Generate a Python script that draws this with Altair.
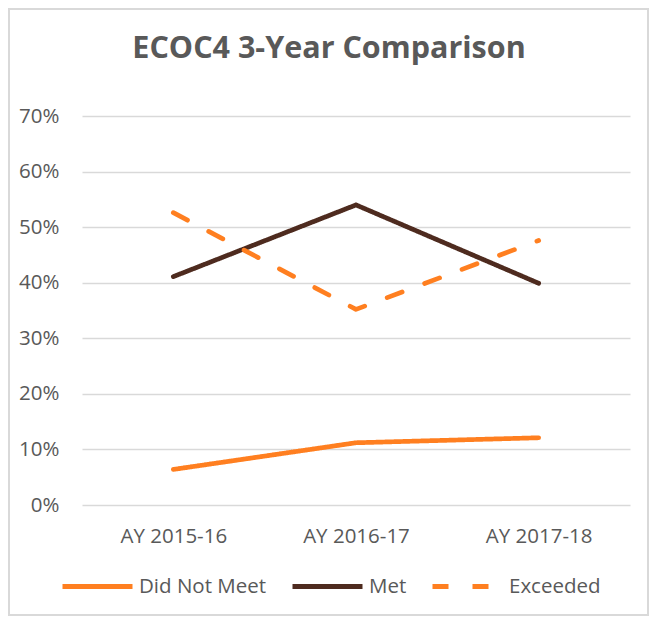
import altair as alt
import pandas as pd

years = ["AY 2015-16", "AY 2016-17", "AY 2017-18"]
series_names = ["Did Not Meet", "Met", "Exceeded"]
did_not_meet = [0.064, 0.112, 0.121]
met = [0.411, 0.540, 0.399]
exceeded = [0.526, 0.352, 0.476]
series_colors = ["#FF7F20", "#4E2B1F", "#FF7F20"]
series_dash = [[1, 0], [1, 0], [16, 24]]
y_ticks = [0, 0.1, 0.2, 0.3, 0.4, 0.5, 0.6, 0.7]
chart_title = "ECOC4 3-Year Comparison"

rows = []
for name, vals in zip(series_names, [did_not_meet, met, exceeded]):
    for yr, v in zip(years, vals):
        rows.append({"Year": yr, "Series": name, "Value": v})
df = pd.DataFrame(rows)

W, H = 548, 389
PL, PT, PR, PB = 74, 108, 19, 111
FS = 20.5

legend = alt.Legend(orient="none", legendX=-22, legendY=433, direction="horizontal",
                    symbolType="stroke", symbolSize=4900, symbolStrokeWidth=5,
                    labelFont="Open Sans", labelFontSize=FS, labelColor="#595959",
                    labelOffset=4, columnPadding=15, symbolOpacity=1, title=None)

lines = alt.Chart(df).mark_line(strokeWidth=4.7, strokeCap="round", strokeJoin="round").encode(
    x=alt.X("Year:N", sort=years, title=None,
            scale=alt.Scale(type="point", padding=0.5),
            axis=alt.Axis(labelAngle=0, labelFont="Open Sans", labelFontSize=FS,
                          labelColor="#595959", labelPadding=21, ticks=False,
                          domain=False, grid=False)),
    y=alt.Y("Value:Q", title=None,
            scale=alt.Scale(domain=[0, 0.7], nice=False),
            axis=alt.Axis(format=".0%", values=y_ticks, labelFont="Open Sans",
                          labelFontSize=FS, labelColor="#595959", labelPadding=23,
                          ticks=False, domain=False, gridColor="#d9d9d9",
                          gridWidth=1.5)),
    color=alt.Color("Series:N", sort=series_names, title=None, legend=legend,
                    scale=alt.Scale(domain=series_names, range=series_colors)),
    strokeDash=alt.StrokeDash("Series:N", sort=series_names, title=None, legend=legend,
                              scale=alt.Scale(domain=series_names, range=series_dash)),
    order=alt.Order("Series:N"),
)

frame = alt.Chart(df).mark_rect(fill="white", fillOpacity=0, stroke="#d9d9d9", strokeWidth=1.5).encode(
    x=alt.value(-PL + 1), x2=alt.value(W + PR - 1),
    y=alt.value(-PT + 1), y2=alt.value(H + PB - 1),
)

title = alt.Chart(pd.DataFrame({"t": [chart_title]})).mark_text(
    font="Open Sans", fontSize=30.5, fontWeight="bold", color="#595959",
    align="center", baseline="alphabetic",
).encode(text="t:N", x=alt.value(247), y=alt.value(-58))

chart = alt.layer(frame, lines, title).properties(
    width=W, height=H,
    background="white",
    padding={"left": PL, "top": PT, "right": PR, "bottom": PB},
    autosize=alt.AutoSizeParams(type="none"),
).configure_view(strokeWidth=0)

chart.save("out.html", embed_options={"renderer": "svg", "actions": False})
